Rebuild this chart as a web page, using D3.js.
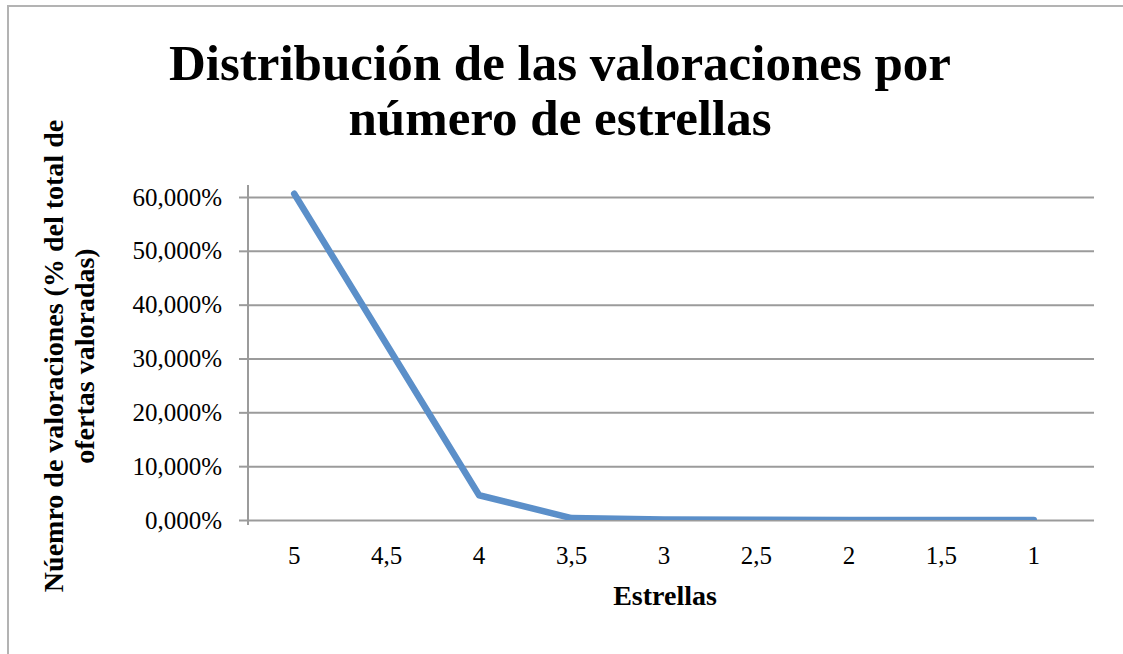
<html>
<head>
<meta charset="utf-8">
<script src="https://d3js.org/d3.v7.min.js"></script>
<style>
    body { margin: 0; background: #fff; }
    svg text { fill: #000; }
    .tick text { font-family: "Liberation Serif", serif; font-size: 25px; }
</style>
</head>
<body>
<svg id="chart" width="1123" height="654"></svg>
<script>
    // data
    var estrellas = ["5", "4,5", "4", "3,5", "3", "2,5", "2", "1,5", "1"];
    var valoraciones = [0.606, 0.326, 0.046, 0.0035, 0.001, 0.0005, 0.0002, 0.0001, 0.0001];
    var yTicks = [0, 0.1, 0.2, 0.3, 0.4, 0.5, 0.6];
    var titulo = ["Distribución de las valoraciones por", "número de estrellas"];
    var ejeY = ["Núemro de valoraciones (% del total de", "ofertas valoradas)"];
    var ejeX = "Estrellas";

    function draw() {
        var svg = d3.select("#chart");

        var plotLeft = 248, plotRight = 1094, plotTop = 197, plotBottom = 520;

        var es = d3.formatLocale({ decimal: ",", thousands: ".", grouping: [3], currency: ["", "€"] });
        var fmt = es.format(".3%");

        var xs = d3.scaleBand().domain(estrellas).range([plotLeft, 1080]);
        var ys = d3.scaleLinear().domain([0, 0.6]).range([plotBottom, plotTop]);

        // chart border (top + left only visible)
        svg.append("path")
            .attr("d", "M8,660 L8,6 L1130,6")
            .attr("fill", "none")
            .attr("stroke", "#b3b3b3")
            .attr("stroke-width", 2);

        // gridlines
        var grid = svg.append("g")
            .attr("transform", "translate(" + plotLeft + ",0)")
            .call(d3.axisLeft(ys).tickValues(yTicks).tickSize(-(plotRight - plotLeft)).tickFormat(""));
        grid.select(".domain").remove();
        grid.selectAll("line").attr("stroke", "#9b9b9b").attr("stroke-width", 2);

        // series, clipped to the plot area like the original
        svg.append("clipPath").attr("id", "plot")
            .append("rect")
            .attr("x", plotLeft).attr("y", plotTop - 20)
            .attr("width", plotRight - plotLeft).attr("height", plotBottom - plotTop + 20);

        var line = d3.line()
            .x(function (d, i) { return xs(estrellas[i]) + xs.bandwidth() / 2; })
            .y(function (d) { return ys(d); });

        svg.append("path")
            .datum(valoraciones)
            .attr("clip-path", "url(#plot)")
            .attr("d", line)
            .attr("fill", "none")
            .attr("stroke", "#5b8fc9")
            .attr("stroke-width", 6.5)
            .attr("stroke-linejoin", "round")
            .attr("stroke-linecap", "round");

        // y axis
        var yAxis = svg.append("g")
            .attr("transform", "translate(" + plotLeft + ",0)")
            .call(d3.axisLeft(ys).tickValues(yTicks).tickSize(9).tickPadding(17).tickFormat(fmt));
        yAxis.select(".domain").remove();
        yAxis.selectAll("line").attr("stroke", "#9b9b9b").attr("stroke-width", 2);
        yAxis.append("line")
            .attr("x1", 0).attr("x2", 0)
            .attr("y1", ys(0) + 5).attr("y2", ys(0.6) - 12)
            .attr("stroke", "#9b9b9b").attr("stroke-width", 2);

        // x axis labels
        var xAxis = svg.append("g")
            .attr("transform", "translate(0," + plotBottom + ")")
            .call(d3.axisBottom(xs).tickSize(0).tickPadding(26));
        xAxis.select(".domain").remove();

        // title
        svg.append("text")
            .attr("text-anchor", "middle")
            .style("font-family", "Liberation Serif, serif")
            .style("font-weight", "bold")
            .style("font-size", "51px")
            .selectAll("tspan").data(titulo).enter().append("tspan")
            .attr("x", 560)
            .attr("y", function (d, i) { return 80 + i * 55; })
            .text(function (d) { return d; });

        // y axis title
        svg.append("g")
            .attr("transform", "translate(0,356) rotate(-90)")
            .append("text")
            .attr("text-anchor", "middle")
            .style("font-family", "Liberation Serif, serif")
            .style("font-weight", "bold")
            .style("font-size", "28px")
            .selectAll("tspan").data(ejeY).enter().append("tspan")
            .attr("x", 0)
            .attr("y", function (d, i) { return 63 + i * 31; })
            .text(function (d) { return d; });

        // x axis title
        svg.append("text")
            .attr("x", 665)
            .attr("y", 605)
            .attr("text-anchor", "middle")
            .style("font-family", "Liberation Serif, serif")
            .style("font-weight", "bold")
            .style("font-size", "28px")
            .text(ejeX);
    }

    draw();
</script>
</body>
</html>
